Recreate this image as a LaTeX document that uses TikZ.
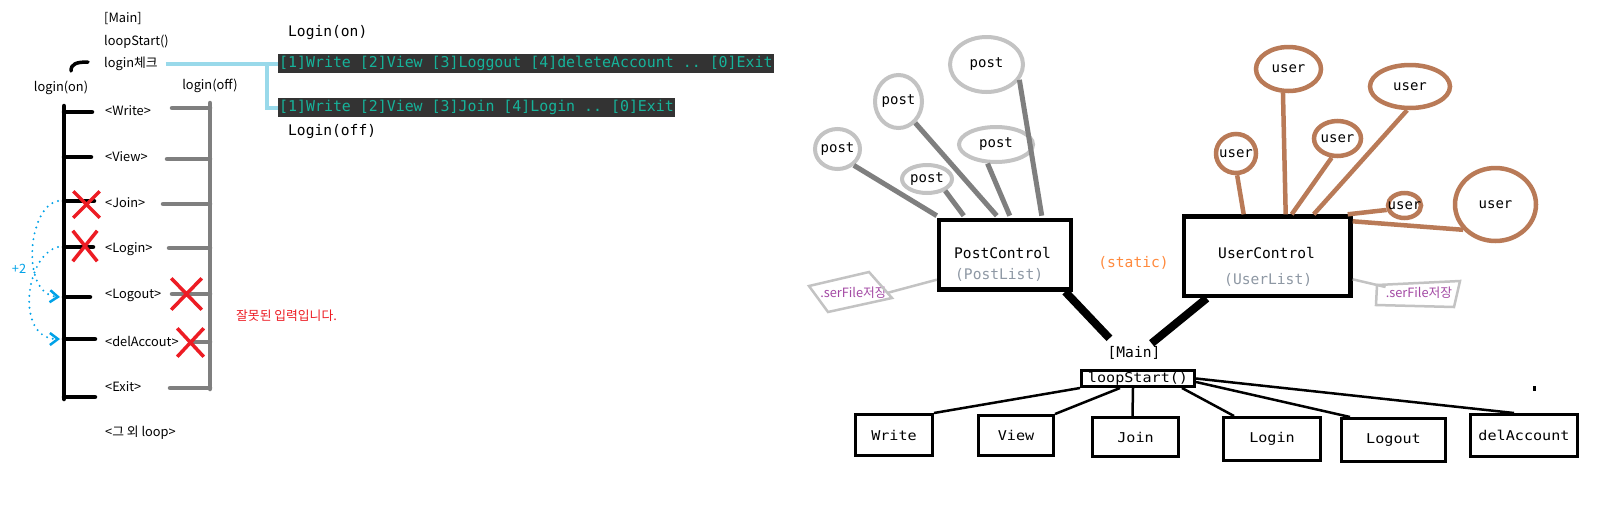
\documentclass[tikz,border=0pt]{standalone}
\usepackage{fontspec}
\setmainfont{Noto Sans CJK KR}
\setmonofont{DejaVu Sans Mono}
\newfontfamily\callfont{DejaVu Sans Mono}[FakeStretch=1.12]
\usetikzlibrary{shapes.geometric,shapes.misc,arrows.meta}
\definecolor{xred}{HTML}{ED1C24}
\definecolor{dotblue}{HTML}{00A2E8}
\definecolor{lineblue}{HTML}{99D9EA}
\definecolor{bardark}{HTML}{333333}
\definecolor{barteal}{HTML}{16B39A}
\definecolor{railgray}{HTML}{7F7F7F}
\definecolor{postgray}{HTML}{C3C3C3}
\definecolor{userbrown}{HTML}{B97A57}
\definecolor{listgray}{HTML}{8E98A4}
\definecolor{statorange}{HTML}{FF8A3D}
\definecolor{tagpurple}{HTML}{A349A4}

\begin{document}
\begin{tikzpicture}[x=1pt,y=-1pt]
\tikzset{item/.style = {anchor=west,inner sep=0pt,font=\fontsize{12.8}{14}\selectfont}}
\tikzset{mono/.style = {inner sep=0pt,font=\ttfamily\fontsize{14.6}{16}\selectfont}}
\tikzset{menubar/.style = {anchor=west,fill=bardark,text=barteal,inner xsep=1pt,inner ysep=0pt,minimum height=19pt,font=\ttfamily\fontsize{14.9}{16}\selectfont}}
\tikzset{nope/.style = {cross out,draw=xred,line width=3.5pt,inner sep=0pt}}
\tikzset{post/.style = {ellipse,draw=postgray,line width=4pt,inner xsep=-10pt,inner ysep=-4pt,font=\ttfamily\fontsize{14}{16}\selectfont}}
\tikzset{user/.style = {ellipse,draw=userbrown,line width=4.5pt,inner xsep=-10pt,inner ysep=-4pt,font=\ttfamily\fontsize{14}{16}\selectfont}}
\tikzset{control/.style = {draw,line width=4.5pt,inner sep=0pt}}
\tikzset{call/.style = {draw,line width=3pt,inner sep=0pt,font=\callfont\fontsize{13.5}{15}\selectfont}}
\tikzset{rail/.style = {line width=4.5pt,line cap=round}}
\tikzset{postlink/.style = {draw=railgray,line width=5pt}}
\tikzset{userlink/.style = {draw=userbrown,line width=4.5pt}}
\tikzset{taglink/.style = {draw=postgray,line width=2.5pt}}
\tikzset{mainlink/.style = {draw,line width=8pt}}
\tikzset{calllink/.style = {draw,line width=2.5pt}}
\tikzset{jump/.style = {draw=dotblue,line width=2.2pt,line cap=round,dash pattern=on 0pt off 6pt,-{Straight Barb[length=8pt,width=12pt,line width=2.5pt]}}}
\useasboundingbox[fill=white] (0,0) rectangle (1618,531);

\node[item] (mainL) at (104,19) {[Main]};
\node[item] (loopL) at (104,42) {loopStart()};
\node[item] (chk) at (104,64) {login체크};
\node[item,anchor=center] (onL) at (61,88) {login(on)};
\node[item,anchor=center] (offL) at (210,86) {login(off)};
\node[item] (iWrite) at (105,111) {<Write>};
\node[item] (iView) at (105,157) {<View>};
\node[item] (iJoin) at (105,203) {<Join>};
\node[item] (iLogin) at (105,249) {<Login>};
\node[item] (iLogout) at (105,295) {<Logout>};
\node[item] (iDel) at (105,341) {<delAccout>};
\node[item] (iExit) at (105,387) {<Exit>};
\node[item] (iElse) at (105,433) {<그 외 loop>};
\node[item,text=xred] (err) at (236,316) {잘못된 입력입니다.};
\node[item,anchor=center,text=dotblue] (plus) at (19,269) {+2};

\coordinate (bWrite) at (64,112);
\coordinate (bView) at (64,157);
\coordinate (bJoin) at (64,201);
\coordinate (bLogin) at (64,247);
\coordinate (bLogout) at (64,297);
\coordinate (bDel) at (64,339);
\coordinate (bEnd) at (64,397);
\draw[rail] (64,106) -- (64,399);
\draw[rail] (bWrite) -- +(28,0) (bView) -- +(27,0) (bJoin) -- +(30,0) (bLogin) -- +(29,0)
  (bLogout) -- +(26,0) (bDel) -- +(31,0) (bEnd) -- +(31,0);
\draw[rail,railgray] (210,103) -- (210,389);
\draw[rail,railgray] (172,108) -- (210,108) (167,159) -- (210,159) (163,204) -- (210,204)
  (169,248) -- (210,248) (172,294) -- (210,294) (193,342) -- (210,342) (170,388) -- (210,388);
\draw[line width=3.5pt,line cap=round] (71,71) .. controls (71,64) and (76,62) .. (88,62);

\node[nope,minimum width=23pt,minimum height=23pt] (xJoin) at (86.5,204.5) {};
\node[nope,minimum width=21pt,minimum height=27pt] (xLogin) at (85,246) {};
\node[nope,minimum width=27pt,minimum height=28pt] (xLogout) at (186.5,294) {};
\node[nope,minimum width=23pt,minimum height=25pt] (xDel) at (190.5,342.5) {};
\draw[jump] ([xshift=-6pt]bJoin) .. controls +(-30,5) and +(-40,-3) .. ([xshift=-4pt]bLogout);
\draw[jump] ([xshift=-6pt]bLogin) .. controls +(-33,8) and +(-45,0) .. ([xshift=-4pt]bDel);

\node[mono,anchor=west] (onT) at (288,33) {Login(on)};
\node[menubar] (bar1) at (278,63.5) {[1]Write [2]View [3]Loggout [4]deleteAccount .. [0]Exit};
\node[menubar] (bar2) at (278,107.5) {[1]Write [2]View [3]Join [4]Login .. [0]Exit};
\node[mono,anchor=west] (offT) at (288,132) {Login(off)};
\coordinate (split) at (267,64);
\draw[lineblue,line width=4pt] ([xshift=8pt]chk.east) -- (chk.east -| bar1.west);
\draw[lineblue,line width=4pt] (split) |- (bar2.west);

\node[post,minimum width=45pt,minimum height=40pt] (p1) at (837.5,149) {post};
\node[post,minimum width=47pt,minimum height=53pt] (p2) at (898.5,101.5) {post};
\node[post,minimum width=73pt,minimum height=55pt] (p3) at (986.5,64.5) {post};
\node[post,minimum width=74pt,minimum height=35pt] (p4) at (996,144.5) {post};
\node[post,minimum width=50pt,minimum height=28pt] (p5) at (927,179) {post};
\node[control,minimum width=132pt,minimum height=69.5pt] (pc) at (1005,254.7) {};
\node[mono,anchor=west] (pcName) at (954,253) {PostControl};
\node[mono,anchor=west,text=listgray] (pcList) at (955,275) {(PostList)};
\draw[postlink] (p1.-45) -- ([yshift=2pt]pc.north west);
\draw[postlink] (p5.-33) -- ([xshift=27pt,yshift=2pt]pc.north west);
\draw[postlink] (p2.-52) -- ([xshift=60pt,yshift=2pt]pc.north west);
\draw[postlink] (p4.-114) -- ([xshift=73pt,yshift=2pt]pc.north west);
\draw[postlink] (p3.-25) -- ([xshift=105pt,yshift=2pt]pc.north west);

\node[mono,text=statorange] (stat) at (1133.5,263) {(static)};

\node[user,minimum width=40pt,minimum height=39pt] (u1) at (1236,153.5) {user};
\node[user,minimum width=65pt,minimum height=44pt] (u2) at (1288.5,69) {user};
\node[user,minimum width=47pt,minimum height=35pt] (u3) at (1337.5,138.5) {user};
\node[user,minimum width=80pt,minimum height=43pt] (u4) at (1410,86.5) {user};
\node[user,minimum width=33pt,minimum height=25pt] (u5) at (1404.5,205.5) {user};
\node[user,minimum width=81pt,minimum height=73pt] (u6) at (1495.5,204.5) {user};
\node[control,minimum width=166.5pt,minimum height=79.5pt] (uc) at (1267.2,256.3) {};
\node[mono,anchor=west] (ucName) at (1218,253) {UserControl};
\node[mono,anchor=west,text=listgray] (ucList) at (1224,280) {(UserList)};
\draw[userlink] (u1.-87) -- ([xshift=62pt]uc.north west);
\draw[userlink] (u2.-103) -- ([xshift=104pt]uc.north west);
\draw[userlink] (u3.-107) -- ([xshift=110pt]uc.north west);
\draw[userlink] (u4.-97) -- ([xshift=132pt]uc.north west);
\draw[userlink] (u5.-166) -- ([xshift=-5pt]uc.north east);
\draw[userlink] (u6.-142) -- ([yshift=-7pt]uc.north east);

\node[item,anchor=center,text=tagpurple] (serL) at (853.5,293) {.serFile저장};
\draw[postgray,line width=2.5pt] (809,286) -- (869,272) -- (892,298) -- (828,312) -- cycle;
\draw[taglink] (serL.east) -- ([yshift=12pt]pc.south west);
\node[item,anchor=center,text=tagpurple] (serR) at (1419,293) {.serFile저장};
\draw[postgray,line width=2.5pt] (1377,285) -- (1460,281) -- (1454,307) -- (1376,305) -- cycle;
\draw[taglink] ([yshift=19pt]uc.south east) -- (serR.north west);

\node[mono] (mainR) at (1134,353) {[Main]};
\draw[mainlink] ([xshift=-8pt]pc.south east) -- ([xshift=2pt,yshift=8pt]mainR.north west);
\draw[mainlink] ([xshift=25pt]uc.south west) -- ([xshift=-9pt,yshift=3pt]mainR.north east);
\node[call,minimum width=113pt,minimum height=16pt] (loop) at (1138,378.5) {loopStart()};
\node[call,minimum width=77pt,minimum height=41pt] (write) at (894,435) {Write};
\node[call,minimum width=75pt,minimum height=40pt] (view) at (1016,435.5) {View};
\node[call,minimum width=86pt,minimum height=39pt] (join) at (1135.5,437) {Join};
\node[call,minimum width=97pt,minimum height=43pt] (login) at (1272,439) {Login};
\node[call,minimum width=104pt,minimum height=43pt] (logout) at (1393.5,440) {Logout};
\node[call,minimum width=107pt,minimum height=42pt] (delacc) at (1524,435.5) {delAccount};
\draw[calllink] (loop.south west) -- (write.north east);
\draw[calllink] ([xshift=-18pt]loop.south) -- (view.north east);
\draw[calllink] ([xshift=-5pt]loop.south) -- ([xshift=-3pt]join.north);
\draw[calllink] ([xshift=44pt]loop.south) -- ([xshift=12pt]login.north west);
\draw[calllink] ([yshift=-3.5pt]loop.east) -- ([xshift=10pt]logout.north west);
\draw[calllink] (loop.east) -- ([xshift=-10pt]delacc.north);
\fill (1533,386) rectangle (1536,391);
\end{tikzpicture}
\end{document}
